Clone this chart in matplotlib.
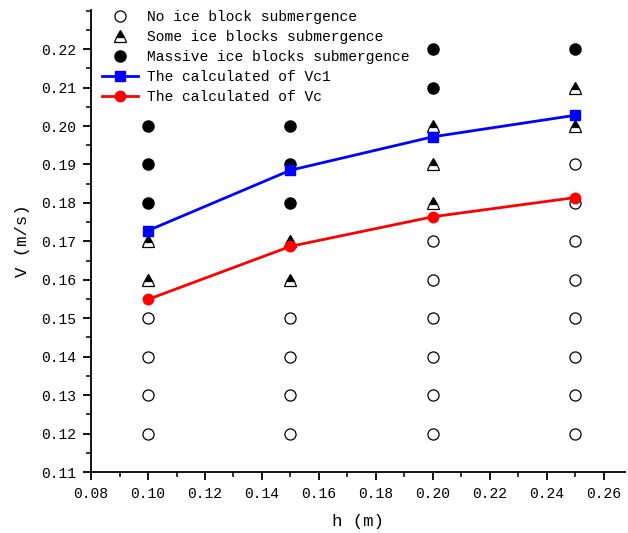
import numpy as np
import matplotlib
matplotlib.use("Agg")
import matplotlib.pyplot as plt
from matplotlib.ticker import MultipleLocator

plt.rcParams['font.family'] = ['Liberation Mono', 'DejaVu Sans Mono']

# depth h (m) of each test column
h_vals = [0.10, 0.15, 0.20, 0.25]

# observed velocities (m/s) per column
no_sub = [
    [0.12, 0.13, 0.14, 0.15],
    [0.12, 0.13, 0.14, 0.15],
    [0.12, 0.13, 0.14, 0.15, 0.16, 0.17],
    [0.12, 0.13, 0.14, 0.15, 0.16, 0.17, 0.18, 0.19],
]
some_sub = [
    [0.16, 0.17],
    [0.16, 0.17],
    [0.18, 0.19, 0.20],
    [0.20, 0.21],
]
massive_sub = [
    [0.18, 0.19, 0.20],
    [0.18, 0.19, 0.20],
    [0.21, 0.22],
    [0.22],
]

# calculated critical velocities
vc1 = [0.1728, 0.1885, 0.1972, 0.2028]
vc = [0.1549, 0.1687, 0.1764, 0.1814]


def flatten(groups):
    xs, ys = [], []
    for h, vs in zip(h_vals, groups):
        xs += [h] * len(vs)
        ys += vs
    return xs, ys


fig = plt.figure(figsize=(6.28, 5.33), dpi=100)
ax = fig.add_axes([0.145, 0.1144, 0.85, 0.867])

x0, y0 = flatten(no_sub)
ax.plot(x0, y0, 'o', ls='none', ms=8, mfc='white', mec='black', mew=0.9,
        label='No ice block submergence')
x1, y1 = flatten(some_sub)
ax.plot(x1, y1, '^', ls='none', ms=8.5, fillstyle='top', mfc='black',
        mfcalt='white', mec='black', mew=0.9,
        label='Some ice blocks submergence')
x2, y2 = flatten(massive_sub)
ax.plot(x2, y2, 'o', ls='none', ms=8, color='black',
        label='Massive ice blocks submergence')
ax.plot(h_vals, vc1, '-s', color='#0000ff', lw=2, ms=7,
        label='The calculated of Vc1')
ax.plot(h_vals, vc, '-o', color='#ff0000', lw=2, ms=7.5,
        label='The calculated of Vc')

ax.set_xlim(0.08, 0.2674)
ax.set_ylim(0.11, 0.2302)
ax.set_xticks(np.arange(0.08, 0.2601, 0.02))
ax.set_yticks(np.arange(0.11, 0.2201, 0.01))
ax.xaxis.set_minor_locator(MultipleLocator(0.01))
ax.yaxis.set_minor_locator(MultipleLocator(0.005))
ax.set_xticklabels([f'{v:.2f}' for v in np.arange(0.08, 0.2601, 0.02)])
ax.set_yticklabels([f'{v:.2f}' for v in np.arange(0.11, 0.2201, 0.01)])

for side in ['top', 'right']:
    ax.spines[side].set_visible(False)
for side in ['left', 'bottom']:
    ax.spines[side].set_linewidth(1.3)
ax.tick_params(which='major', direction='out', length=6, width=1.3,
               labelsize=10.5, pad=5)
ax.tick_params(which='minor', direction='out', length=3.5, width=1.1)

ax.set_xlabel('h (m)', fontsize=12.5, labelpad=9)
ax.set_ylabel('V (m/s)', fontsize=12.5, labelpad=8)

ax.legend(loc='upper left', bbox_to_anchor=(0.148, 0.998),
          bbox_transform=fig.transFigure, frameon=False, fontsize=10.5,
          handlelength=2.5, handletextpad=0.6, labelspacing=0.42,
          borderaxespad=0.2)

fig.savefig('out.png', dpi=100)
